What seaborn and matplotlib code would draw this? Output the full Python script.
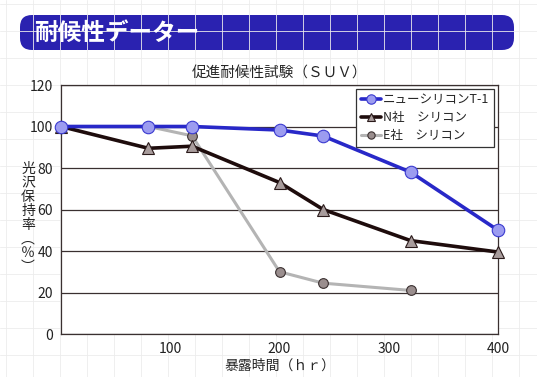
import numpy as np
import pandas as pd
import matplotlib
matplotlib.use("Agg")
import matplotlib.pyplot as plt
from matplotlib.patches import FancyBboxPatch
import seaborn as sns

# data
hours_t1 = [0, 80, 120, 200, 240, 320, 400]
gloss_t1 = [100, 100, 100, 98.3, 95.4, 78, 50]
hours_n = [0, 80, 120, 200, 240, 320, 400]
gloss_n = [100, 89.5, 90.5, 73, 60, 45, 39.5]
hours_e = [0, 80, 120, 200, 240, 320]
gloss_e = [100, 100, 95.5, 30, 24.5, 21]

series_names = ["ニューシリコンT-1", "N社　シリコン", "E社　シリコン"]
y_ticks = [0, 20, 40, 60, 80, 100, 120]
x_ticks = [100, 200, 300, 400]

sns.set_theme(style="white")
plt.rcParams['font.family'] = ['Noto Sans CJK JP', 'DejaVu Sans']

fig = plt.figure(figsize=(5.37, 3.77), dpi=100)

# faint grid-paper background
bg = fig.add_axes([0, 0, 1, 1], zorder=-5)
bg.set_xlim(0, 537)
bg.set_ylim(377, 0)
for gx in np.arange(6, 537, 27):
    bg.axvline(gx, color="#ececec", lw=0.6)
for gy in np.arange(4, 377, 27):
    bg.axhline(gy, color="#ececec", lw=0.6)
bg.axis("off")

# title banner
banner = FancyBboxPatch((20, 15), 494, 35, boxstyle="round,pad=0,rounding_size=12",
                        fc="#2a22b0", ec="none", transform=bg.transData)
bg.add_patch(banner)
bg.text(34, 33, "耐候性データー", color="white", fontsize=17, fontweight="bold",
        va="center", ha="left")

ax = fig.add_axes([61 / 537, 1 - 334 / 377, 437 / 537, 249 / 377])
ax.set_facecolor("white")

styles = [
    (hours_t1, gloss_t1, "#2828c8", 2.6, "o", "#9c9cf0", "#3a3ad0", 9),
    (hours_n, gloss_n, "#1e0c0c", 2.6, "^", "#a89c9c", "#2a1a1a", 8),
    (hours_e, gloss_e, "#b4b4b4", 2.2, "o", "#9a8e8e", "#3a3030", 7),
]
# draw E first so the others sit above it
order = [2, 1, 0]
for i in order:
    xs, ys, col, lw, mk, mfc, mec, ms = styles[i]
    df = pd.DataFrame({"hr": xs, "val": ys})
    sns.lineplot(data=df, x="hr", y="val", ax=ax, color=col, lw=lw, marker=mk,
                 markersize=ms, markerfacecolor=mfc, markeredgecolor=mec,
                 markeredgewidth=0.8, label=series_names[i], clip_on=False, zorder=3 + (2 - i))

ax.set_xlim(0, 400)
ax.set_ylim(0, 120)
ax.set_yticks(y_ticks)
ax.set_xticks(x_ticks)
ax.yaxis.grid(True, color="#3a3030", lw=0.9)
ax.set_axisbelow(True)
for s in ax.spines.values():
    s.set_color("#3a3030")
    s.set_linewidth(0.9)
ax.tick_params(axis="x", direction="in", length=3, labelsize=10, colors="#222222", pad=6)
ax.tick_params(axis="y", length=0, labelsize=10, colors="#222222", pad=6)
ax.set_xlabel("暴露時間（ｈｒ）", fontsize=10, labelpad=2)
ax.set_ylabel("")
ax.set_title("促進耐候性試験（ＳＵＶ）", fontsize=10.5, pad=5)

fig.text(28 / 537, 1 - 218 / 377, "光\n沢\n保\n持\n率\n︵\n％\n︶", fontsize=10,
         ha="center", va="center", linespacing=1.0, color="#222222")

h, l = ax.get_legend_handles_labels()
h, l = h[::-1], l[::-1]
leg = ax.legend(h, l, loc="upper right", bbox_to_anchor=(0.991, 0.984), borderaxespad=0,
                fontsize=9, frameon=True, fancybox=False, edgecolor="#333333", borderpad=0.35,
                handlelength=1.6, handletextpad=0.2, labelspacing=0.4, framealpha=1,
                markerscale=0.75)
leg.get_frame().set_linewidth(0.9)
leg.set_zorder(10)

fig.savefig("out.png", dpi=100)
